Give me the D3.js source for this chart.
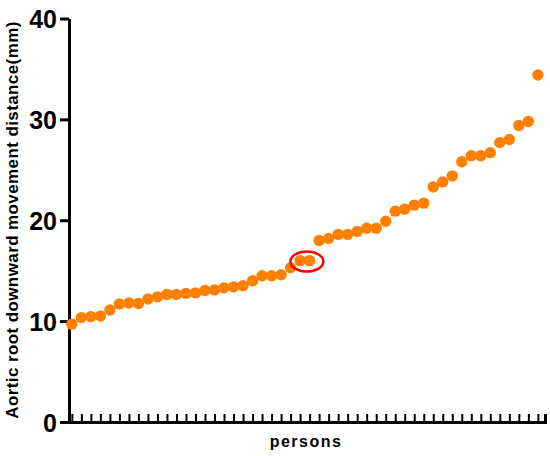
<!DOCTYPE html>
<html><head><meta charset="utf-8">
<script src="https://cdn.jsdelivr.net/npm/d3@7"></script>
<style>
body{margin:0;background:#fff;}
svg{display:block;}
.ax text{font-family:"Liberation Sans",Arial,sans-serif;font-weight:bold;fill:#000;}
</style></head>
<body>
<svg id="c" width="550" height="456"></svg>
<script>
const persons = d3.range(1, 51);
const distance = [9.7,10.35,10.45,10.5,11.1,11.7,11.8,11.75,12.2,12.4,
  12.65,12.65,12.75,12.8,13.05,13.1,13.3,13.4,13.5,14.0,
  14.5,14.5,14.6,15.3,16.0,16.0,18.0,18.2,18.6,18.6,
  18.9,19.2,19.2,19.9,20.9,21.1,21.5,21.7,23.3,23.8,
  24.4,25.8,26.4,26.4,26.7,27.7,28.0,29.4,29.8,34.4];
const yTicks = [0,10,20,30,40];
const highlighted = [25,26];
const yTitle = "Aortic root downward movement distance(mm)";
const xTitle = "persons";

const svg = d3.select("#c");
const x = d3.scaleLinear().domain([0.7, 50.75]).range([69, 545]);
const y = d3.scaleLinear().domain([0, 40]).range([422, 18.5]);

// x axis
const gx = svg.append("g").attr("class","ax").attr("transform","translate(0,422)")
  .call(d3.axisBottom(x).tickValues(persons).tickSize(-8).tickFormat(""));
gx.select(".domain").attr("stroke","#000").attr("stroke-width",3);
gx.selectAll(".tick line").attr("stroke","#000").attr("stroke-width",2);

// y axis
const gy = svg.append("g").attr("class","ax").attr("transform","translate(69,0)")
  .call(d3.axisLeft(y).tickValues(yTicks).tickSize(9).tickPadding(3).tickSizeOuter(0));
gy.select(".domain").attr("stroke","#000").attr("stroke-width",3);
gy.selectAll(".tick line").attr("stroke","#000").attr("stroke-width",3);
gy.selectAll(".tick text").style("font-size","25px").attr("dy","0.36em");

// points
svg.append("g").selectAll("circle").data(distance).join("circle")
  .attr("cx",(d,i)=>x(persons[i])).attr("cy",d=>y(d)).attr("r",5.7)
  .attr("fill","#FF8000");

// highlight ellipse
const hx = (x(highlighted[0]) + x(highlighted[1]))/2;
const hy = y((distance[highlighted[0]-1] + distance[highlighted[1]-1])/2);
svg.append("ellipse").attr("cx",hx+2).attr("cy",hy+1).attr("rx",16.5).attr("ry",10)
  .attr("fill","none").attr("stroke","#FF0000").attr("stroke-width",2.5);

// titles
svg.append("text").attr("transform","translate(18,220) rotate(-90)")
  .attr("text-anchor","middle")
  .style("font-family","'Liberation Sans',Arial,sans-serif").style("font-weight","bold")
  .style("font-size","17px").style("letter-spacing","0.4px")
  .text(yTitle);
svg.append("text").attr("x",306).attr("y",447).attr("text-anchor","middle")
  .style("font-family","'Liberation Sans',Arial,sans-serif").style("font-weight","bold")
  .style("font-size","16px").style("letter-spacing","1.5px")
  .text(xTitle);
</script>
</body></html>
